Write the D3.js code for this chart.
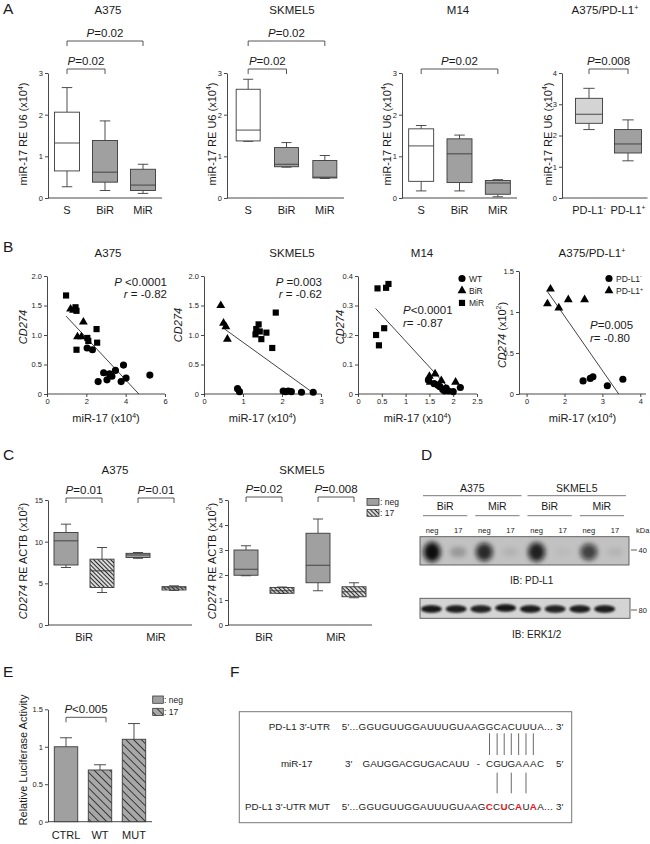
<!DOCTYPE html>
<html>
<head>
<meta charset="utf-8">
<script src="https://cdn.jsdelivr.net/npm/d3@7.9.0/dist/d3.min.js"></script>
<style>
  body { margin: 0; background: #fff; }
  svg { font-family: "Liberation Sans", Arial, sans-serif; }
  .axis path, .axis line { stroke: #333; stroke-width: 0.9; }
  .axis text { fill: #222; }
</style>
</head>
<body>
<svg id="fig" width="650" height="844"></svg>
<script>
// ---------- data ----------
// box stats are [low, q1, median, q3, high]
const aGroups = ['S', 'BiR', 'MiR'];
const aA375 = [[0.27, 0.65, 1.32, 2.06, 2.65], [0.18, 0.38, 0.62, 1.38, 1.85], [0.11, 0.18, 0.31, 0.69, 0.81]];
const aSKMEL5 = [[1.36, 1.37, 1.63, 2.61, 2.85], [0.74, 0.75, 0.81, 1.21, 1.33], [0.47, 0.48, 0.5, 0.9, 1.02]];
const aM14 = [[0.17, 0.4, 1.25, 1.66, 1.74], [0.17, 0.37, 1.06, 1.42, 1.51], [0.03, 0.09, 0.36, 0.42, 0.44]];
const aPDGroups = ['PD-L1^-^', 'PD-L1^+^'];
const aPD = [[2.19, 2.39, 2.68, 3.19, 3.51], [1.19, 1.44, 1.73, 2.19, 2.5]];

// scatter points [miR-17, CD274]
const bA375WT = [[2.04, 0.78], [2.31, 0.75], [2.6, 0.21], [2.88, 0.36], [3.05, 0.24], [3.18, 0.34], [3.3, 0.3], [3.48, 0.4], [3.77, 0.21], [3.89, 0.49], [4.02, 0.27], [5.23, 0.32]];
const bA375BiR = [[1.2, 1.44], [1.35, 1.42], [1.85, 1.22], [1.55, 0.97], [1.75, 0.97]];
const bA375MiR = [[0.97, 1.67], [1.45, 1.47], [1.5, 1.41], [2.52, 1.1], [2.05, 0.95], [2.1, 0.9], [2.55, 0.87], [1.5, 0.75]];
const bA375Fit = [[0.97, 1.32], [4.67, 0]];
const bSkWT = [[0.86, 0.09], [0.91, 0.04], [2.03, 0.05], [2.09, 0.04], [2.16, 0.05], [2.24, 0.04], [2.5, 0.03], [2.8, 0.03]];
const bSkBiR = [[0.43, 1.5], [0.5, 1.2], [0.56, 1.14], [0.6, 0.93]];
const bSkMiR = [[1.32, 1.01], [1.34, 1.1], [1.4, 1.18], [1.43, 1.06], [1.47, 0.93], [1.6, 1.04], [1.75, 0.78], [1.84, 1.38]];
const bSkFit = [[0.53, 1.1], [2.84, 0]];
const bM14WT = [[1.48, 0.047], [1.6, 0.035], [1.68, 0.03], [1.72, 0.025], [1.78, 0.015], [1.82, 0.01], [1.9, 0.01], [2.0, 0.008], [2.15, 0.022], [1.85, 0.02]];
const bM14BiR = [[1.5, 0.06], [1.52, 0.04], [1.62, 0.068], [1.75, 0.045], [2.05, 0.04]];
const bM14MiR = [[0.41, 0.358], [0.59, 0.36], [0.64, 0.373], [0.55, 0.223], [0.38, 0.2], [0.44, 0.165]];
const bM14Fit = [[0.37, 0.29], [1.85, 0.03]];
const bPDNeg = [[2.49, 0.16], [2.68, 0.19], [2.75, 0.21], [3.13, 0.1], [3.54, 0.18]];
const bPDPos = [[1.63, 1.28], [1.55, 1.1], [1.85, 1.05], [2.1, 1.15], [2.53, 1.15]];
const bPDFit = [[1.55, 1.25], [3.43, 0]];
const bPDTickLabels = ['0', '2', '3', '4'];

const cGroups = ['BiR', 'MiR'];
const cTreat = ['neg', '17'];
const cA375Neg = [[6.9, 7.2, 10.1, 11.1, 12.1], [8.0, 8.1, 8.4, 8.6, 8.7]];
const cA375Mir = [[3.9, 4.5, 6.5, 7.9, 9.3], [4.15, 4.2, 4.45, 4.6, 4.7]];
const cSkNeg = [[1.97, 1.99, 2.23, 3.0, 3.17], [1.37, 1.69, 2.39, 3.67, 4.24]];
const cSkMir = [[1.26, 1.27, 1.37, 1.5, 1.52], [1.09, 1.13, 1.33, 1.53, 1.69]];

const dCells = ['A375', 'SKMEL5'];
const dSubs = ['BiR', 'MiR', 'BiR', 'MiR'];
const dLanes = ['neg', '17', 'neg', '17', 'neg', '17', 'neg', '17'];
const dPdl1 = [1.0, 0.22, 0.85, 0.08, 0.9, 0.04, 0.72, 0.07];
const dErk = [0.95, 0.92, 0.9, 0.95, 0.93, 0.9, 0.92, 0.93];

const eGroups = ['CTRL', 'WT', 'MUT'];
const eMeans = [1.0, 0.69, 1.1];
const eErrs = [0.12, 0.07, 0.21];
const eHatched = [false, true, true];

const fSeqWT = '5′...GGUGUUGGAUUUGUAAGGCACUUUA...';
const fSeqMut = '5′...GGUGUUGGAUUUGUAAGCCUCAUAA...';
const fMirRest = 'GAUGGACGUGACAUU';
const fMirSeed = 'CGUGAAAC';
const fWtPairs = [22, 23, 24, 25, 26, 27, 28];
const fMutPairs = [23, 25, 27];
const fMutRed = [22, 24, 26, 28];

// ---------- helpers ----------
const GRAY = '#a0a0a0', LIGHT = '#d4d4d4', STROKE = '#3a3a3a';
const svg = d3.select('#fig');
const defs = svg.append('defs');

function hatch(id, w, bg, sw) {
  const p = defs.append('pattern').attr('id', id).attr('patternUnits', 'userSpaceOnUse')
    .attr('width', w).attr('height', w).attr('patternTransform', 'rotate(-45)');
  p.append('rect').attr('width', w).attr('height', w).attr('fill', bg);
  p.append('line').attr('x1', 0.5).attr('y1', 0).attr('x2', 0.5).attr('y2', w)
    .attr('stroke', '#2a2a2a').attr('stroke-width', sw);
}
hatch('hatchC', 3, '#d8d8d8', 1);
hatch('hatchE', 5.5, '#a8a8a8', 0.9);
defs.append('filter').attr('id', 'blurBig').attr('x', '-50%').attr('y', '-50%').attr('width', '200%').attr('height', '200%')
  .append('feGaussianBlur').attr('stdDeviation', 2.6);
defs.append('filter').attr('id', 'blurSmall').attr('x', '-50%').attr('y', '-50%').attr('width', '200%').attr('height', '200%')
  .append('feGaussianBlur').attr('stdDeviation', 1.1);

// *x* italic, ^x^ superscript
function rich(t, str, fs) {
  let up = false;
  str.split(/(\*[^*]+\*|\^[^^]+\^)/).filter(Boolean).forEach(p => {
    const s = t.append('tspan');
    if (p[0] === '^') {
      s.attr('dy', -fs * 0.38).attr('font-size', fs * 0.62).text(p.slice(1, -1));
      up = true;
      return;
    }
    if (up) { s.attr('dy', fs * 0.38); up = false; }
    if (p[0] === '*') s.attr('font-style', 'italic').text(p.slice(1, -1));
    else s.text(p);
  });
}

function label(x, y, str, opt = {}) {
  const fs = opt.size || 11;
  const t = svg.append('text').attr('x', x).attr('y', y).attr('font-size', fs)
    .attr('text-anchor', opt.anchor || 'middle').attr('fill', opt.fill || '#1a1a1a');
  if (opt.rotate) t.attr('transform', `rotate(-90,${x},${y})`);
  rich(t, str, fs);
  return t;
}

function yAxis(x, y, ticks, fmt, fs) {
  const g = svg.append('g').attr('class', 'axis').attr('transform', `translate(${x},0)`)
    .call(d3.axisLeft(y).tickValues(ticks).tickSize(3).tickSizeOuter(0).tickPadding(2).tickFormat(fmt));
  g.attr('font-size', null).attr('font-family', null);
  g.selectAll('text').attr('font-size', fs);
  return g;
}

function xAxis(y0, x, ticks, fmt, fs) {
  const g = svg.append('g').attr('class', 'axis').attr('transform', `translate(0,${y0})`)
    .call(d3.axisBottom(x).tickValues(ticks).tickSize(3).tickSizeOuter(0).tickPadding(2).tickFormat(fmt));
  g.attr('font-size', null).attr('font-family', null);
  g.selectAll('text').attr('font-size', fs);
  return g;
}

function hline(x1, x2, y) {
  svg.append('line').attr('x1', x1).attr('x2', x2).attr('y1', y).attr('y2', y)
    .attr('stroke', '#333').attr('stroke-width', 0.9);
}

function drawBox(cx, w, s, y, fill) {
  const [lo, q1, md, q3, hi] = s;
  const g = svg.append('g').attr('stroke', STROKE).attr('stroke-width', 0.9);
  const cap = w * 0.42;
  g.append('line').attr('x1', cx).attr('x2', cx).attr('y1', y(hi)).attr('y2', y(q3));
  g.append('line').attr('x1', cx).attr('x2', cx).attr('y1', y(q1)).attr('y2', y(lo));
  [hi, lo].forEach(v => g.append('line').attr('x1', cx - cap / 2).attr('x2', cx + cap / 2).attr('y1', y(v)).attr('y2', y(v)));
  g.append('rect').attr('x', cx - w / 2).attr('y', y(q3)).attr('width', w).attr('height', Math.max(y(q1) - y(q3), 0.8)).attr('fill', fill);
  g.append('line').attr('x1', cx - w / 2).attr('x2', cx + w / 2).attr('y1', y(md)).attr('y2', y(md));
}

function bracket(xa, xb, yb, text) {
  svg.append('path').attr('d', `M${xa},${yb + 5}V${yb}H${xb}V${yb + 5}`)
    .attr('fill', 'none').attr('stroke', '#444').attr('stroke-width', 0.9);
  label((xa + xb) / 2, yb - 4.5, text, { size: 11.5 });
}

// panel letters
[['A', 3, 14, ], ['B', 3, 252], ['C', 3, 460], ['D', 421, 460], ['E', 3, 677], ['F', 230, 677]]
  .forEach(([l, x, y]) => label(x, y, l, { size: 15.5, anchor: 'start' }));

// ---------- A ----------
const aPanels = [
  { title: 'A375', tx: 108, stats: aA375, groups: aGroups, fills: ['#fff', GRAY, GRAY], ax: 48, band: [48, 162], bw: 25, dom: [0, 3], ticks: [0, 1, 2, 3], lx: 27, br: [[0, 2, 41, '*P*=0.02'], [0, 1, 69, '*P*=0.02']] },
  { title: 'SKMEL5', tx: 292, stats: aSKMEL5, groups: aGroups, fills: ['#fff', GRAY, GRAY], ax: 227, band: [229, 344], bw: 24, dom: [0, 3], ticks: [0, 1, 2, 3], lx: 215.5, br: [[0, 2, 41, '*P*=0.02'], [0, 1, 69, '*P*=0.02']] },
  { title: 'M14', tx: 458, stats: aM14, groups: aGroups, fills: ['#fff', GRAY, GRAY], ax: 402, band: [402, 517], bw: 25, dom: [0, 3], ticks: [0, 1, 2, 3], lx: 390.5, br: [[0, 2, 69, '*P*=0.02']] },
  { title: 'A375/PD-L1^+^', tx: 605, stats: aPD, groups: aPDGroups, fills: [LIGHT, GRAY], ax: 562, band: [569.5, 647.5], bw: 27, dom: [0, 4], ticks: [0, 1, 2, 3, 4], lx: 551.5, br: [[0, 1, 69, '*P*=0.008']] }
];
aPanels.forEach(p => {
  const y = d3.scaleLinear().domain(p.dom).range([198, 73]);
  const x = d3.scaleBand().domain(p.groups).range(p.band);
  const cx = d => x(d) + x.bandwidth() / 2;
  label(p.tx, 14, p.title, { size: 11.5 });
  yAxis(p.ax, y, p.ticks, d3.format('d'), 7.5);
  hline(p.ax, p.band[1], 198);
  p.groups.forEach((gname, i) => {
    drawBox(cx(gname), p.bw, p.stats[i], y, p.fills[i]);
    label(cx(gname), 214, gname, { size: 11 });
  });
  p.br.forEach(([a, b, yb, t]) => bracket(cx(p.groups[a]), cx(p.groups[b]), yb, t));
  label(p.lx, 134, 'miR-17 RE U6 (x10^4^)', { size: 11, rotate: true });
});

// ---------- B ----------
const symCircle = d3.symbol().type(d3.symbolCircle).size(40)();
const symTri = d3.symbol().type(d3.symbolTriangle).size(34)();
const symSq = d3.symbol().type(d3.symbolSquare).size(38)();
const bPanels = [
  { title: 'A375', tx: 108, xd: [0, 6], xr: [47, 165], xt: [0, 2, 4, 6], xf: d3.format('~g'), yd: [0, 2], yTop: 276, yt: [0, 0.5, 1, 1.5, 2], yf: d => d === 0 ? '0' : d3.format('.1f')(d),
    sets: [[bA375WT, symCircle], [bA375BiR, symTri], [bA375MiR, symSq]], fit: bA375Fit, lx: 27, ly: 327, ylab: '*CD274*',
    ann: [[167, 286, '*P* <0.0001', 'end'], [167, 298, '*r* = -0.82', 'end']] },
  { title: 'SKMEL5', tx: 292, xd: [0, 3], xr: [204, 321], xt: [0, 1, 2, 3], xf: d3.format('~g'), yd: [0, 2], yTop: 276, yt: [0, 0.5, 1, 1.5, 2], yf: d => d === 0 ? '0' : d3.format('.1f')(d),
    sets: [[bSkWT, symCircle], [bSkBiR, symTri], [bSkMiR, symSq]], fit: bSkFit, lx: 182, ly: 325, ylab: '*CD274*',
    ann: [[322, 286, '*P* =0.003', 'end'], [322, 298, '*r* = -0.62', 'end']] },
  { title: 'M14', tx: 422, xd: [0, 2.5], xr: [358, 477], xt: [0, 0.5, 1, 1.5, 2, 2.5], xf: d3.format('~g'), yd: [0, 0.4], yTop: 276, yt: [0, 0.1, 0.2, 0.3, 0.4], yf: d => d === 0 ? '0' : d3.format('.1f')(d),
    sets: [[bM14WT, symCircle], [bM14BiR, symTri], [bM14MiR, symSq]], fit: bM14Fit, lx: 344, ly: 327, ylab: '*CD274*',
    ann: [[403, 314, '*P*<0.0001', 'start'], [403, 327, '*r*= -0.87', 'start']],
    legend: { x: 462, items: [[symCircle, 'WT'], [symTri, 'BiR'], [symSq, 'MiR']] } },
  { title: 'A375/PD-L1^+^', tx: 592, xd: [0.8, 4.15], xr: [519, 646], xt: [1, 2, 3, 4], xf: (d, i) => bPDTickLabels[i], yd: [0, 1.5], yTop: 271, yt: [0, 0.5, 1, 1.5], yf: d3.format('~g'),
    sets: [[bPDNeg, symCircle], [bPDPos, symTri]], fit: bPDFit, lx: 505.5, ly: 335, ylab: '*CD274* (x10^2^)',
    ann: [[590, 329, '*P*=0.005', 'start'], [590, 341.5, '*r*= -0.80', 'start']],
    legend: { x: 609, items: [[symCircle, 'PD-L1^-^'], [symTri, 'PD-L1^+^']] } }
];
bPanels.forEach(p => {
  const x = d3.scaleLinear().domain(p.xd).range(p.xr);
  const y = d3.scaleLinear().domain(p.yd).range([394, p.yTop]);
  label(p.tx, 257, p.title, { size: 11.5 });
  yAxis(p.xr[0], y, p.yt, p.yf, 7.5);
  const xa = xAxis(394, x, p.xt, p.xf, 7.5);
  xa.select('.domain').attr('d', `M${p.xr[0]},0H${p.xr[1]}`);
  svg.append('line').attr('x1', x(p.fit[0][0])).attr('y1', y(p.fit[0][1]))
    .attr('x2', x(p.fit[1][0])).attr('y2', y(p.fit[1][1])).attr('stroke', '#111').attr('stroke-width', 0.8);
  p.sets.forEach(([pts, sym]) => {
    svg.append('g').selectAll('path').data(pts).join('path')
      .attr('d', sym).attr('fill', '#000')
      .attr('transform', d => `translate(${x(d[0])},${y(d[1])})`);
  });
  p.ann.forEach(([ax, ay, t, anc]) => label(ax, ay, t, { size: 11.5, anchor: anc }));
  label((p.xr[0] + p.xr[1]) / 2, 422, 'miR-17 (x10^4^)', { size: 11 });
  label(p.lx, p.ly, p.ylab, { size: 11, rotate: true });
  if (p.legend) {
    p.legend.items.forEach(([sym, t], i) => {
      const ly = 278.5 + i * 12.2;
      svg.append('path').attr('d', sym).attr('fill', '#000').attr('transform', `translate(${p.legend.x},${ly})`);
      label(p.legend.x + 7, ly + 3.2, t, { size: 8.5, anchor: 'start' });
    });
  }
});

// ---------- C ----------
const cPanels = [
  { title: 'A375', tx: 115, neg: cA375Neg, mir: cA375Mir, ax: 48, band: [48, 192], dom: [0, 15], ticks: [0, 5, 10, 15], lx: 27, pv: ['*P*=0.01', '*P*=0.01'], by: 498 },
  { title: 'SKMEL5', tx: 302, neg: cSkNeg, mir: cSkMir, ax: 228, band: [228, 372], dom: [0, 5], ticks: [0, 1, 2, 3, 4, 5], lx: 215.5, pv: ['*P*=0.02', '*P*=0.008'], by: 497 }
];
cPanels.forEach(p => {
  const y = d3.scaleLinear().domain(p.dom).range([625, 500]);
  const x = d3.scaleBand().domain(cGroups).range(p.band);
  const sub = d3.scaleBand().domain(cTreat).range([0, x.bandwidth()]);
  const cx = (g, t) => x(g) + sub(t) + sub.bandwidth() / 2;
  label(p.tx, 474, p.title, { size: 11.5 });
  yAxis(p.ax, y, p.ticks, d3.format('d'), 7.5);
  hline(p.ax, p.band[1], 625);
  cGroups.forEach((g, i) => {
    drawBox(cx(g, 'neg'), 24, p.neg[i], y, GRAY);
    drawBox(cx(g, '17'), 24, p.mir[i], y, 'url(#hatchC)');
    label(x(g) + x.bandwidth() / 2, 641, g, { size: 11 });
    bracket(cx(g, 'neg'), cx(g, '17'), p.by, p.pv[i]);
  });
  label(p.lx, 561, '*CD274* RE ACTB (x10^2^)', { size: 11, rotate: true });
});
// C legend
[[GRAY, ': neg'], ['url(#hatchC)', ': 17']].forEach(([f, t], i) => {
  const ly = 498.5 + i * 11;
  svg.append('rect').attr('x', 367).attr('y', ly).attr('width', 12).attr('height', 6.8)
    .attr('fill', f).attr('stroke', STROKE).attr('stroke-width', 0.8);
  label(380, ly + 6.8, t, { size: 8.5, anchor: 'start' });
});

// ---------- D ----------
const lane = d3.scaleBand().domain(d3.range(dLanes.length)).range([420, 629]);
const lc = i => lane(i) + lane.bandwidth() / 2;
dCells.forEach((c, k) => {
  const a = lane(k * 4) + 3, b = lane(k * 4 + 3) + lane.bandwidth() - 3;
  label((a + b) / 2, 491.5, c, { size: 10.5 });
  svg.append('line').attr('x1', a).attr('x2', b).attr('y1', 495.7).attr('y2', 495.7).attr('stroke', '#555').attr('stroke-width', 0.8);
});
dSubs.forEach((s, k) => {
  const a = lane(k * 2) + 3, b = lane(k * 2 + 1) + lane.bandwidth() - 5;
  label((a + b) / 2, 510, s, { size: 10.5 });
  svg.append('line').attr('x1', a).attr('x2', b).attr('y1', 515.7).attr('y2', 515.7).attr('stroke', '#555').attr('stroke-width', 0.8);
});
dLanes.forEach((l, i) => label(lc(i) - 1, 532.5, l, { size: 7.5 }));
label(636, 532.5, 'kDa', { size: 7.5, anchor: 'start' });

svg.append('clipPath').attr('id', 'clipPD').append('rect').attr('x', 420).attr('y', 536.7).attr('width', 209).attr('height', 28.3);
svg.append('rect').attr('x', 420).attr('y', 536.7).attr('width', 209).attr('height', 28.3).attr('fill', '#c2c2c2');
svg.append('g').attr('clip-path', 'url(#clipPD)').attr('filter', 'url(#blurBig)')
  .selectAll('ellipse').data(dPdl1).join('ellipse')
  .attr('cx', (d, i) => lc(i) - 1).attr('cy', 552)
  .attr('rx', 8.5).attr('ry', d => 4 + 6 * d)
  .attr('fill', '#0a0a0a').attr('opacity', d => d);
svg.append('rect').attr('x', 420).attr('y', 536.7).attr('width', 209).attr('height', 28.3)
  .attr('fill', 'none').attr('stroke', '#555').attr('stroke-width', 0.9);
svg.append('line').attr('x1', 631).attr('x2', 637).attr('y1', 550).attr('y2', 550).attr('stroke', '#333').attr('stroke-width', 0.8);
label(638.5, 553, '40', { size: 7.5, anchor: 'start' });
label(531.7, 583.5, 'IB: PD-L1', { size: 10 });

const laneErk = d3.scaleBand().domain(d3.range(dErk.length)).range([419, 617]);
svg.append('rect').attr('x', 420).attr('y', 598.3).attr('width', 210).attr('height', 20).attr('fill', '#d4d4d4');
svg.append('g').attr('filter', 'url(#blurSmall)')
  .selectAll('ellipse').data(dErk).join('ellipse')
  .attr('cx', (d, i) => laneErk(i) + laneErk.bandwidth() / 2).attr('cy', (d, i) => 609 - (i === 3 ? 1 : 0))
  .attr('rx', 10.5).attr('ry', 3.8).attr('fill', '#0a0a0a').attr('opacity', d => d);
svg.append('rect').attr('x', 420).attr('y', 598.3).attr('width', 210).attr('height', 20)
  .attr('fill', 'none').attr('stroke', '#555').attr('stroke-width', 0.9);
svg.append('line').attr('x1', 631).attr('x2', 637).attr('y1', 610).attr('y2', 610).attr('stroke', '#333').attr('stroke-width', 0.8);
label(638.5, 613, '80', { size: 7.5, anchor: 'start' });
label(536.7, 637.5, 'IB: ERK1/2', { size: 10 });

// ---------- E ----------
{
  const y = d3.scaleLinear().domain([0, 1.5]).range([821.7, 709.3]);
  const x = d3.scaleBand().domain(eGroups).range([48, 152]).paddingInner(0.31).paddingOuter(0.185);
  yAxis(48, y, [0, 0.5, 1, 1.5], d3.format('~g'), 7.5);
  hline(48, 152, 821.7);
  eGroups.forEach((g, i) => {
    const cx = x(g) + x.bandwidth() / 2;
    const top = y(eMeans[i] + eErrs[i]);
    svg.append('line').attr('x1', cx).attr('x2', cx).attr('y1', y(eMeans[i])).attr('y2', top).attr('stroke', STROKE).attr('stroke-width', 0.9);
    svg.append('line').attr('x1', cx - 6).attr('x2', cx + 6).attr('y1', top).attr('y2', top).attr('stroke', STROKE).attr('stroke-width', 0.9);
    svg.append('rect').attr('x', x(g)).attr('y', y(eMeans[i])).attr('width', x.bandwidth()).attr('height', y(0) - y(eMeans[i]))
      .attr('fill', eHatched[i] ? 'url(#hatchE)' : GRAY).attr('stroke', STROKE).attr('stroke-width', 0.9);
    label(cx, 839, g, { size: 11 });
  });
  bracket(x('CTRL') + x.bandwidth() / 2, x('WT') + x.bandwidth() / 2 + 6, 717.3, '*P*<0.005');
  label(27, 760, 'Relative Luciferase Activity', { size: 11, rotate: true });
  [[GRAY, ': neg'], ['url(#hatchE)', ': 17']].forEach(([f, t], i) => {
    const ly = 696 + i * 12.3;
    svg.append('rect').attr('x', 152.7).attr('y', ly).attr('width', 10.6).attr('height', 7.3)
      .attr('fill', f).attr('stroke', STROKE).attr('stroke-width', 0.8);
    label(164, ly + 7, t, { size: 8.5, anchor: 'start' });
  });
}

// ---------- F ----------
{
  svg.append('rect').attr('x', 239.3).attr('y', 711.7).attr('width', 332.4).attr('height', 111)
    .attr('fill', 'none').attr('stroke', '#777').attr('stroke-width', 1);
  const fs = 9.8;
  const wt = svg.append('text').attr('x', 341.7).attr('y', 730).attr('font-size', fs).attr('fill', '#222')
    .attr('textLength', 211).attr('lengthAdjust', 'spacing').text(fSeqWT);
  const mut = svg.append('text').attr('x', 341.7).attr('y', 809.5).attr('font-size', fs).attr('fill', '#222')
    .attr('textLength', 211).attr('lengthAdjust', 'spacing');
  mut.selectAll('tspan').data(fSeqMut.split('')).join('tspan')
    .attr('fill', (d, i) => fMutRed.includes(i) ? '#e8141a' : '#222')
    .attr('font-weight', (d, i) => fMutRed.includes(i) ? 'bold' : null)
    .text(d => d);
  const node = wt.node();
  const cc = i => { const r = node.getExtentOfChar(i); return r.x + r.width / 2; };

  label(330, 730, 'PD-L1 3′-UTR', { size: fs, anchor: 'end', fill: '#222' });
  label(330, 809.5, 'PD-L1 3′-UTR MUT', { size: fs, anchor: 'end', fill: '#222' });
  label(556, 730, '3′', { size: fs, anchor: 'start', fill: '#222' });
  label(556, 809.5, '3′', { size: fs, anchor: 'start', fill: '#222' });
  label(296.7, 767, 'miR-17', { size: fs, fill: '#222' });
  label(345, 767, '3′', { size: fs, anchor: 'start', fill: '#222' });
  label(469.3, 767, fMirRest, { size: fs, anchor: 'end', fill: '#222' });
  label(478.3, 767, '-', { size: fs, fill: '#222' });
  label(556, 767, '5′', { size: fs, anchor: 'start', fill: '#222' });
  fMirSeed.split('').forEach((ch, k) => label(cc(fWtPairs[0] + k), 767, ch, { size: fs, fill: '#222' }));

  svg.append('g').selectAll('line').data(fWtPairs).join('line')
    .attr('x1', d => cc(d)).attr('x2', d => cc(d)).attr('y1', 733.3).attr('y2', 755)
    .attr('stroke', '#444').attr('stroke-width', 0.8);
  svg.append('g').selectAll('line').data(fMutPairs).join('line')
    .attr('x1', d => cc(d)).attr('x2', d => cc(d)).attr('y1', 772.7).attr('y2', 793.3)
    .attr('stroke', '#444').attr('stroke-width', 0.8);
}
</script>
</body>
</html>
